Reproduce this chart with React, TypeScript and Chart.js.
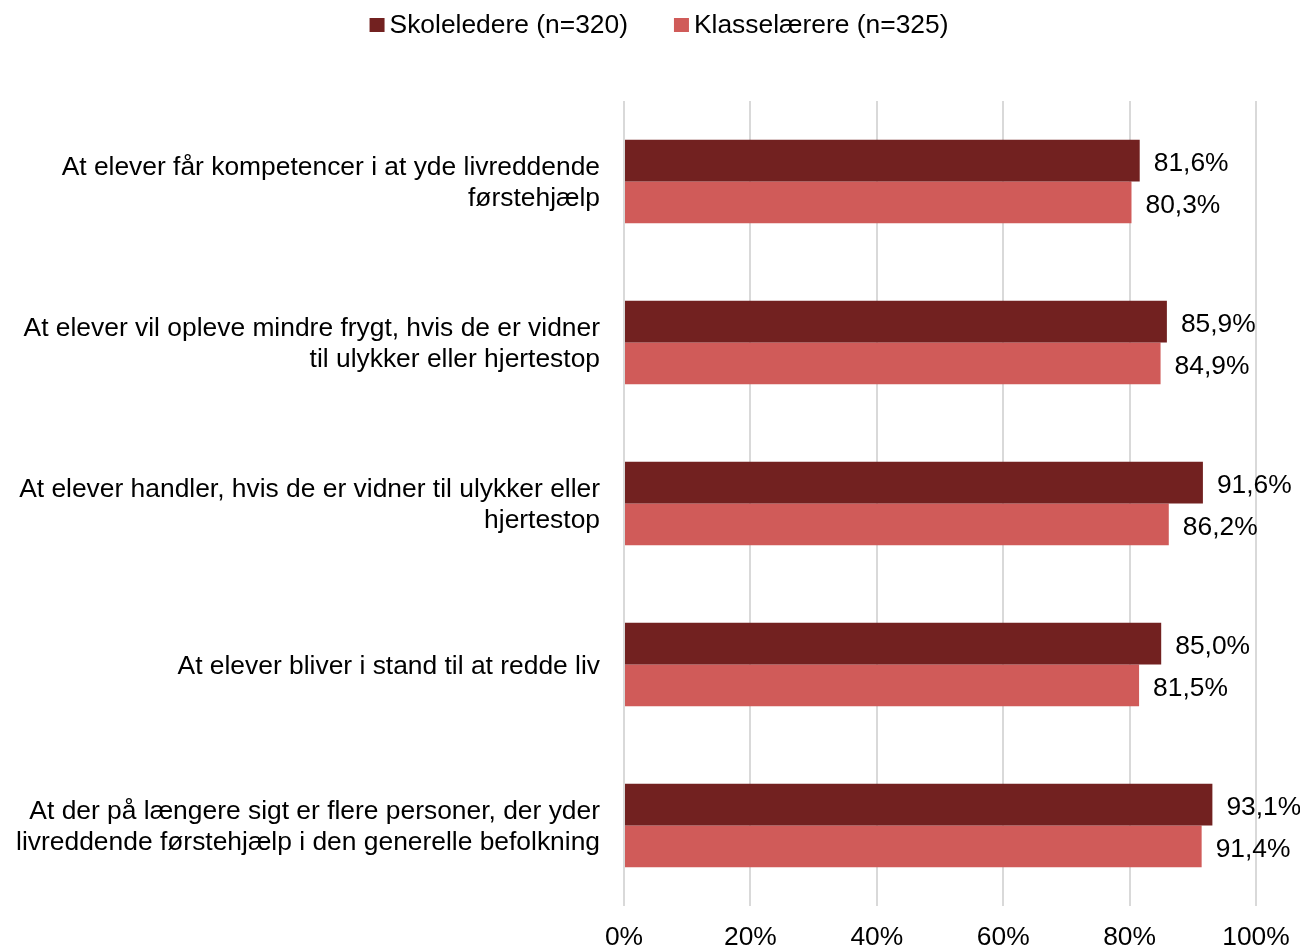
import React, { useEffect, useRef } from "react";
import { Chart, registerables } from "chart.js";

Chart.register(...registerables);

const categories: string[][] = [
  ["At elever får kompetencer i at yde livreddende", "førstehjælp"],
  ["At elever vil opleve mindre frygt, hvis de er vidner", "til ulykker eller hjertestop"],
  ["At elever handler, hvis de er vidner til ulykker eller", "hjertestop"],
  ["At elever bliver i stand til at redde liv"],
  ["At der på længere sigt er flere personer, der yder", "livreddende førstehjælp i den generelle befolkning"],
];

const seriesNames = ["Skoleledere (n=320)", "Klasselærere (n=325)"];
const skoleledere = [81.6, 85.9, 91.6, 85.0, 93.1];
const klasselaerere = [80.3, 84.9, 86.2, 81.5, 91.4];
const xTicks = [0, 20, 40, 60, 80, 100];

const colors = ["#722120", "#D05B59"];
const FONT = "'Liberation Sans', Arial, sans-serif";
const FS = 26.4;

const customLegend = {
  id: "customLegend",
  afterDraw(chart: any) {
    const ctx = chart.ctx;
    ctx.save();
    ctx.font = `${FS}px ${FONT}`;
    ctx.textBaseline = "middle";
    ctx.textAlign = "left";
    const box = 15;
    const boxGap = 5;
    const itemGap = 46;
    const widths = chart.data.datasets.map((ds: any) => ctx.measureText(ds.label).width);
    const total =
      widths.reduce((a: number, w: number) => a + w + box + boxGap, 0) + itemGap * (widths.length - 1);
    let x = 659 - total / 2;
    chart.data.datasets.forEach((ds: any, i: number) => {
      ctx.fillStyle = ds.backgroundColor;
      ctx.fillRect(x, 18, box, box - 1);
      ctx.fillStyle = "#000";
      ctx.fillText(ds.label, x + box + boxGap, 26);
      x += box + boxGap + widths[i] + itemGap;
    });
    ctx.restore();
  },
};

const valueLabels = {
  id: "valueLabels",
  afterDatasetsDraw(chart: any) {
    const ctx = chart.ctx;
    ctx.save();
    ctx.font = `${FS}px ${FONT}`;
    ctx.fillStyle = "#000";
    ctx.textAlign = "left";
    ctx.textBaseline = "middle";
    chart.data.datasets.forEach((ds: any, i: number) => {
      const meta = chart.getDatasetMeta(i);
      meta.data.forEach((bar: any, j: number) => {
        const v = ds.data[j] as number;
        const txt = v.toFixed(1).replace(".", ",") + "%";
        ctx.fillText(txt, bar.x + 14, bar.y + 3);
      });
    });
    ctx.restore();
  },
};

export default function App() {
  const ref = useRef<HTMLCanvasElement | null>(null);

  useEffect(() => {
    if (!ref.current) return;
    const chart = new Chart(ref.current, {
      type: "bar",
      data: {
        labels: categories,
        datasets: [
          {
            label: seriesNames[0],
            data: skoleledere,
            backgroundColor: colors[0],
            categoryPercentage: 0.52,
            barPercentage: 1,
          },
          {
            label: seriesNames[1],
            data: klasselaerere,
            backgroundColor: colors[1],
            categoryPercentage: 0.52,
            barPercentage: 1,
          },
        ],
      },
      options: {
        indexAxis: "y",
        animation: false,
        responsive: false,
        maintainAspectRatio: false,
        layout: { padding: { left: 0, right: 44, top: 101, bottom: 0 } },
        plugins: {
          tooltip: { enabled: false },
          legend: { display: false },
        },
        scales: {
          x: {
            min: 0,
            max: 100,
            afterBuildTicks(scale: any) {
              scale.ticks = xTicks.map((v) => ({ value: v }));
            },
            afterFit(scale: any) {
              scale.height = 42;
              scale.paddingLeft = 0;
              scale.paddingRight = 0;
            },
            ticks: {
              font: { size: FS, family: FONT },
              color: "#000",
              padding: 16,
              callback: (v: any) => v + "%",
            },
            grid: { color: "#D9D9D9", lineWidth: 2, drawTicks: false },
            border: { display: false },
          },
          y: {
            afterFit(scale: any) {
              scale.width = 624;
              scale.paddingTop = 0;
              scale.paddingBottom = 0;
            },
            ticks: {
              font: { size: FS, family: FONT, lineHeight: 1.19 },
              color: "#000",
              padding: 24,
              labelOffset: 2,
            },
            grid: { display: false, drawTicks: false },
            border: { display: false },
          },
        },
      },
      plugins: [customLegend, valueLabels],
    } as any);
    return () => chart.destroy();
  }, []);

  return (
    <div style={{ position: "fixed", left: 0, top: 0, width: 1300, height: 948, background: "#fff" }}>
      <canvas ref={ref} width={1300} height={948} style={{ width: 1300, height: 948 }} />
    </div>
  );
}
